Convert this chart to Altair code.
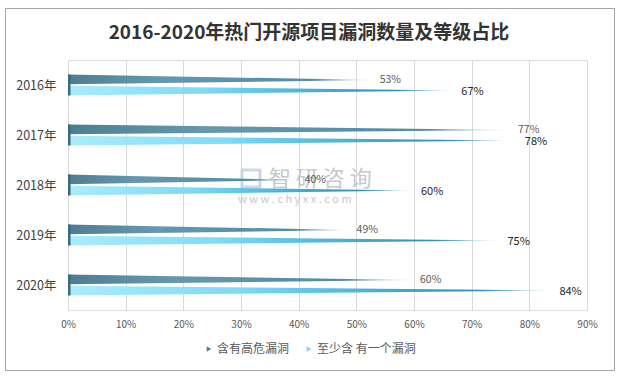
import altair as alt
import pandas as pd

years = ["2016年", "2017年", "2018年", "2019年", "2020年"]
high_risk = [53, 77, 40, 49, 60]
any_vuln = [67, 78, 60, 75, 84]
series_names = ["含有高危漏洞", "至少含 有一个漏洞"]
x_ticks = [0, 10, 20, 30, 40, 50, 60, 70, 80, 90]
title_text = "2016-2020年热门开源项目漏洞数量及等级占比"

FONT = "Noto Sans CJK SC"
DARK = "#4f8399"
LIGHT = "#7fd3f0"

# shape offsets (in category units): top, bottom at base; tip position
SHAPE = {series_names[0]: (-0.21, -0.015, -0.10), series_names[1]: (0.015, 0.21, 0.11)}

rows = []
lab = []
for i, y in enumerate(years):
    for s, vals in ((series_names[0], high_risk), (series_names[1], any_vuln)):
        v = vals[i]
        t, b, tip = SHAPE[s]
        rows.append({"series": s, "x": 0, "top": i + t, "bot": i + b, "key": f"{y}-{s}"})
        rows.append({"series": s, "x": v, "top": i + tip, "bot": i + tip, "key": f"{y}-{s}"})
        lab.append({"year": y, "series": s, "pos": i + tip, "v": v, "label": f"{v}%",
                    "p1": i - 0.21, "p2": i + 0.21})
df = pd.DataFrame(rows)
ldf = pd.DataFrame(lab)

label_arr = "[" + ",".join(f"'{y}'" for y in years) + "]"

xs = alt.Scale(domain=[0, 90], nice=False, zero=True)
ys = alt.Scale(domain=[-0.5, 4.5], reverse=True, nice=False, zero=False)

x_enc = alt.X("x:Q", scale=xs, axis=alt.Axis(
    values=x_ticks, labelExpr="datum.value + '%'", title=None, domain=False, ticks=False,
    grid=True, gridColor="#d9d9d9", labelColor="#595959", labelFontSize=10, labelPadding=9,
    labelFont=FONT, labelFlush=False))
y_enc = alt.Y("top:Q", scale=ys, axis=alt.Axis(
    values=[0, 1, 2, 3, 4], labelExpr=f"{label_arr}[datum.value]", title=None, domain=False,
    ticks=False, grid=False, labelColor="#404040", labelFontSize=12.5, labelPadding=12,
    labelFont=FONT))

dark_grad = alt.LinearGradient(gradient="linear", x1=0, x2=1, y1=0, y2=0, stops=[
    alt.GradientStop(color="#4d7d93", offset=0),
    alt.GradientStop(color="#6698ad", offset=0.3),
    alt.GradientStop(color="#508ba5", offset=0.8),
    alt.GradientStop(color="#e6eef2", offset=1)])
light_grad = alt.LinearGradient(gradient="linear", x1=0, x2=1, y1=0, y2=0, stops=[
    alt.GradientStop(color="#acebfd", offset=0),
    alt.GradientStop(color="#7ddaf7", offset=0.35),
    alt.GradientStop(color="#3aa3cb", offset=0.72),
    alt.GradientStop(color="#2f8fb7", offset=0.85),
    alt.GradientStop(color="#e3eef2", offset=1)])

base = alt.Chart(df)

area_dark = base.transform_filter(alt.datum.series == series_names[0]).mark_area(
    color=dark_grad, orient="vertical").encode(x=x_enc, y=y_enc, y2="bot:Q", detail="key:N")
area_light = base.transform_filter(alt.datum.series == series_names[1]).mark_area(
    color=light_grad, orient="vertical").encode(x="x:Q", y="top:Q", y2="bot:Q", detail="key:N")

stub = alt.Chart(ldf).transform_filter(alt.datum.series == series_names[0]).mark_rule(
    color="#3b6a7c", strokeWidth=2.5).encode(x=alt.datum(0.22), y="p1:Q", y2="p2:Q")

lab_dark = alt.Chart(ldf).transform_filter(alt.datum.series == series_names[0]).mark_text(
    align="left", baseline="middle", dx=6, dy=0, fontSize=10.5, color="#595959", font=FONT
).encode(x="v:Q", y="pos:Q", text="label:N")
lab_light = alt.Chart(ldf).transform_filter(alt.datum.series == series_names[1]).mark_text(
    align="left", baseline="middle", dx=7, dy=1, fontSize=11, color="#262626", font=FONT
).encode(x="v:Q", y="pos:Q", text="label:N")

legend_pts = alt.Chart(ldf).mark_point(opacity=0, filled=True).encode(
    x="v:Q", y="pos:Q",
    color=alt.Color("series:N", sort=series_names,
                    scale=alt.Scale(domain=series_names, range=[DARK, LIGHT]),
                    legend=alt.Legend(title=None, orient="none", direction="horizontal",
                                      legendX=135, legendY=283, symbolType="triangle-right",
                                      symbolSize=28, symbolOpacity=1, labelFontSize=12,
                                      labelColor="#595959", labelFont=FONT, columnPadding=13,
                                      symbolStrokeWidth=0, labelOffset=2)))

one = pd.DataFrame({"t": [title_text]})
title = alt.Chart(one).mark_text(fontSize=19, fontWeight="bold", color="#333333", font=FONT,
                                 baseline="middle", align="center").encode(
    x=alt.value(241), y=alt.value(-27), text="t:N")

wm = pd.DataFrame({"t": ["智 研 咨 询", "w w w . c h y x x . c o m"]})
wm1 = alt.Chart(wm.iloc[[0]]).mark_text(fontSize=22, color="#b4bcc6", opacity=0.8, font=FONT,
                                        align="left", baseline="middle").encode(
    x=alt.value(201), y=alt.value(119), text="t:N")
wm2 = alt.Chart(wm.iloc[[1]]).mark_text(fontSize=11, color="#b4bcc6", opacity=0.8, font=FONT,
                                        align="left", baseline="middle").encode(
    x=alt.value(170), y=alt.value(140), text="t:N")
logo = alt.Chart(one).mark_rect(fill=None, stroke="#c3cde0", strokeWidth=3, opacity=0.8).encode(
    x=alt.value(174), x2=alt.value(192), y=alt.value(110), y2=alt.value(127))

border = alt.Chart(one).mark_rect(fill=None, stroke="#a6a6a6", strokeWidth=1).encode(
    x=alt.value(-62.5), x2=alt.value(546.5), y=alt.value(-51.5), y2=alt.value(310.5))

chart = alt.layer(border, wm1, wm2, logo, area_dark, area_light, stub, lab_dark, lab_light,
                  legend_pts, title).properties(
    width=519, height=250, autosize=alt.AutoSizeParams(type="none"),
    padding={"left": 68, "top": 60, "right": 32, "bottom": 67},
).configure_view(stroke=None).configure(background="white")

chart.save("out.html", embed_options={"renderer": "svg", "actions": False})
